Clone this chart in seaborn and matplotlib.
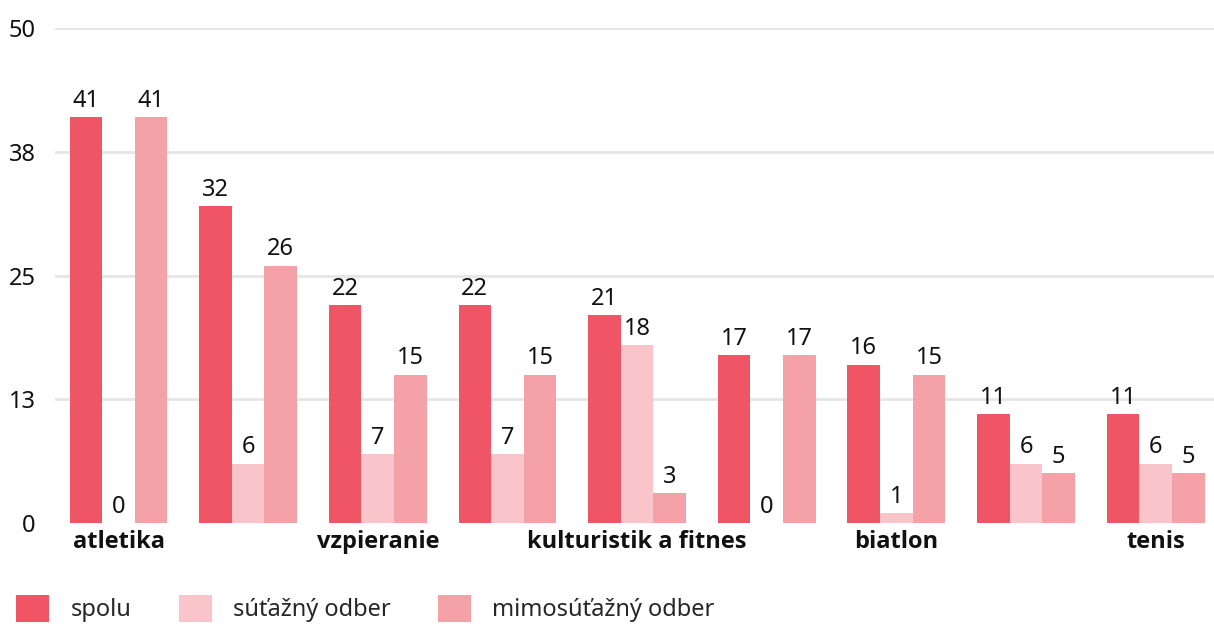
import numpy as np
import pandas as pd
import seaborn as sns
import matplotlib.pyplot as plt
from matplotlib.patches import Patch

# data
positions = list(range(9))
tick_labels = ["atletika", "", "vzpieranie", "", "kulturistik a fitnes", "", "biatlon", "", "tenis"]
spolu = [41, 32, 22, 22, 21, 17, 16, 11, 11]
sutazny = [0, 6, 7, 7, 18, 0, 1, 6, 6]
mimosutazny = [41, 26, 15, 15, 3, 17, 15, 5, 5]
series = ["spolu", "súťažný odber", "mimosúťažný odber"]
colors = ["#f05565", "#f9c5ca", "#f5a1a8"]
y_ticks = [0, 12.5, 25, 37.5, 50]
y_tick_labels = ["0", "13", "25", "38", "50"]

df = pd.DataFrame({
    "pos": positions * 3,
    "value": spolu + sutazny + mimosutazny,
    "series": [series[0]] * 9 + [series[1]] * 9 + [series[2]] * 9,
})

sns.set_style("white")
plt.rcParams["font.family"] = ["Noto Sans", "DejaVu Sans"]

fig = plt.figure(figsize=(12.14, 6.28), dpi=100)
ax = fig.add_axes([0.0453, 0.1672, 0.9547, 0.7882])

sns.barplot(data=df, x="pos", y="value", hue="series", hue_order=series,
            palette=colors, width=0.755, gap=0, saturation=1, ax=ax, legend=False,
            errorbar=None, zorder=3, linewidth=0, edgecolor="none")

for c in ax.containers:
    ax.bar_label(c, fmt="%.0f", padding=3, fontsize=17, color="#111111")

ax.set_ylim(0, 50)
ax.set_xlim(-0.49, 8.45)
ax.set_yticks(y_ticks)
ax.set_yticklabels(y_tick_labels, fontsize=17, color="#111111")
for t in y_ticks[1:]:
    ax.axhline(t, color="#e6e6e6", lw=2, zorder=1)
ax.set_xticks(positions)
ax.set_xticklabels(tick_labels, fontsize=17, color="#111111")
for lab in ax.get_xticklabels():
    lab.set_fontfamily(["Open Sans", "DejaVu Sans"])
    lab.set_fontweight("bold")
ax.tick_params(axis="both", length=0)
ax.tick_params(axis="y", pad=14)
ax.tick_params(axis="x", pad=5)
ax.set_xlabel("")
ax.set_ylabel("")
sns.despine(ax=ax, left=True, bottom=True)

handles = [Patch(facecolor=c, edgecolor="none") for c in colors]
fig.legend(handles, series, loc="lower left", bbox_to_anchor=(-0.004, -0.025), ncol=3,
           frameon=False, fontsize=17, handlelength=1.4, handleheight=1.4,
           handletextpad=0.9, columnspacing=2.0)

fig.savefig("out.png", dpi=100)
